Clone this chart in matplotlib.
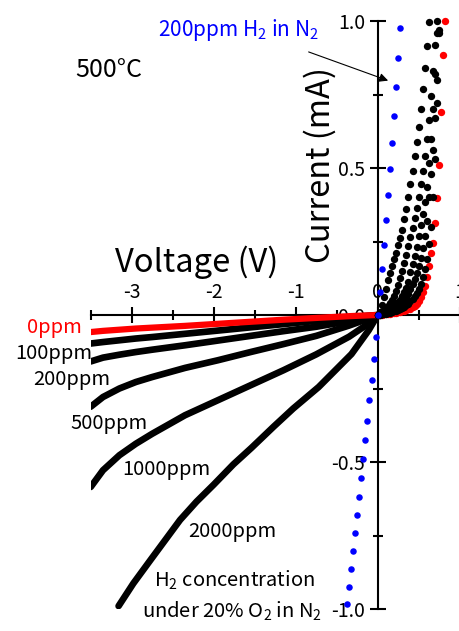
import matplotlib
matplotlib.use("Agg")
import matplotlib.pyplot as plt
from matplotlib.ticker import MultipleLocator, FormatStrFormatter

plt.rcParams['font.family'] = ['Noto Sans CJK JP', 'DejaVu Sans']
plt.rcParams['mathtext.fontset'] = 'custom'
plt.rcParams['mathtext.rm'] = 'Noto Sans CJK JP'

W, H = 460, 631

# forward sweep (dots), 0.025 V steps
v_fwd = [0.000, 0.025, 0.050, 0.075, 0.100, 0.125, 0.150, 0.175, 0.200, 0.225,
         0.250, 0.275, 0.300, 0.325, 0.350, 0.375, 0.400, 0.425, 0.450, 0.475,
         0.500, 0.525, 0.550, 0.575, 0.600, 0.625, 0.650, 0.675, 0.700, 0.725,
         0.750, 0.775, 0.800, 0.825]

i_fwd_0 = [0, .001, .001, .002, .003, .004, .005, .006, .007, .008, .009, .010,
           .012, .014, .016, .019, .022, .026, .031, .039, .049, .062, .079, .100,
           .128, .165, .212, .246, .314, .398, .510, .690, .883, 1.0]
i_fwd_100 = [0, .001, .002, .003, .004, .006, .008, .010, .012, .014, .017, .020,
             .024, .028, .033, .039, .046, .054, .064, .076, .090, .107, .128, .155,
             .190, .240, .300, .400, .530, .720, .970]
i_fwd_200 = [0, .001, .003, .005, .007, .009, .011, .014, .017, .021, .025, .030,
             .036, .043, .060, .073, .088, .105, .122, .143, .167, .195, .228, .268,
             .320, .400, .480, .560, .670, .800, .960]
i_fwd_500 = [0, .002, .004, .007, .010, .013, .017, .022, .028, .035, .043, .052,
             .063, .077, .093, .112, .145, .172, .200, .232, .268, .305, .345, .385,
             .436, .516, .600, .700, .820, .960]
i_fwd_1000 = [0, .004, .009, .015, .022, .030, .040, .052, .066, .083, .102, .125,
              .150, .177, .205, .235, .266, .297, .330, .365, .400, .444, .490, .540,
              .600, .663, .746, .830, .920, 1.0]
i_fwd_2000 = [0, .011, .034, .062, .090, .118, .142, .168, .190, .212, .238, .262,
              .290, .325, .360, .400, .445, .490, .540, .590, .640, .700, .770, .840,
              .915, .995]

# reverse sweep (dense, drawn as thick curves)
v_rev = [-3.5, -3.35, -3.15, -2.95, -2.75, -2.35, -1.95, -1.55, -1.15, -0.75, -0.35, -0.1, 0.0]
i_rev_0 = [-0.058, -0.054, -0.050, -0.046, -0.043, -0.037, -0.030, -0.023, -0.016, -0.010, -0.004, -0.001, 0]
i_rev_100 = [-0.097, -0.092, -0.086, -0.080, -0.075, -0.064, -0.053, -0.042, -0.031, -0.020, -0.009, -0.002, 0]
i_rev_200 = [-0.158, -0.145, -0.135, -0.126, -0.118, -0.103, -0.087, -0.071, -0.055, -0.040, -0.021, -0.006, 0]
i_rev_500 = [-0.312, -0.279, -0.250, -0.228, -0.211, -0.180, -0.154, -0.126, -0.099, -0.071, -0.036, -0.011, 0]
i_rev_1000 = [-0.585, -0.528, -0.477, -0.438, -0.404, -0.341, -0.290, -0.239, -0.188, -0.134, -0.074, -0.027, 0]
v_rev_2000 = [-3.16, -2.98, -2.77, -2.41, -2.21, -2.0, -1.76, -1.54, -1.27, -1.03, -0.72, -0.32, -0.11, 0.0]
i_rev_2000 = [-0.99, -0.913, -0.833, -0.697, -0.635, -0.577, -0.508, -0.452, -0.38, -0.318, -0.245, -0.133, -0.052, 0]

# 200 ppm H2 in N2
v_n2 = [-0.375, -0.35, -0.325, -0.3, -0.275, -0.25, -0.225, -0.2, -0.175, -0.15,
        -0.125, -0.1, -0.075, -0.05, -0.025, 0.0, 0.025, 0.05, 0.075, 0.1, 0.125,
        0.15, 0.175, 0.2, 0.225, 0.25, 0.275]
i_n2 = [-0.983, -0.925, -0.863, -0.803, -0.743, -0.68, -0.618, -0.555, -0.491, -0.425,
        -0.36, -0.289, -0.221, -0.15, -0.076, 0.0, 0.078, 0.156, 0.238, 0.323, 0.408,
        0.497, 0.585, 0.677, 0.776, 0.874, 0.976]

fig = plt.figure(figsize=(W / 100, H / 100), dpi=100)
ax = fig.add_axes([90.7 / W, 22 / H, 369 / W, 588 / H])
ax.set_xlim(-3.5, 1.0)
ax.set_ylim(-1.0, 1.0)

for s in ['bottom', 'right']:
    ax.spines[s].set_visible(False)
ax.spines['top'].set_position(('data', 0))
ax.spines['left'].set_position(('data', 0))
for s in ['top', 'left']:
    ax.spines[s].set_linewidth(1.5)
ax.xaxis.set_ticks_position('top')
ax.yaxis.set_ticks_position('left')
ax.xaxis.set_major_locator(MultipleLocator(1))
ax.xaxis.set_minor_locator(MultipleLocator(0.5))
ax.yaxis.set_major_locator(MultipleLocator(0.5))
ax.yaxis.set_minor_locator(MultipleLocator(0.25))
ax.xaxis.set_major_formatter(FormatStrFormatter('%d'))
ax.yaxis.set_major_formatter(FormatStrFormatter('%.1f'))
ax.tick_params(which='major', direction='inout', length=12, width=1.5, labelsize=14, pad=3)
ax.tick_params(which='minor', direction='inout', length=7, width=1.5)

lw = 4.8
for ii in [i_rev_100, i_rev_200, i_rev_500, i_rev_1000]:
    ax.plot(v_rev, ii, color='k', lw=lw, solid_capstyle='round', solid_joinstyle='round', zorder=3)
ax.plot(v_rev_2000, i_rev_2000, color='k', lw=lw, solid_capstyle='round',
        solid_joinstyle='round', zorder=3)
ax.plot(v_rev, i_rev_0, color='red', lw=4.5, solid_capstyle='round', solid_joinstyle='round', zorder=4)

ax.scatter(v_fwd[:len(i_fwd_0)], i_fwd_0, s=28, color='red', lw=0, zorder=3, clip_on=False)
for ii in [i_fwd_100, i_fwd_200, i_fwd_500, i_fwd_1000, i_fwd_2000]:
    ax.scatter(v_fwd[:len(ii)], ii, s=28, color='k', lw=0, zorder=4, clip_on=False)
ax.scatter(v_n2, i_n2, s=22, color='blue', lw=0, zorder=5, clip_on=False)

ax.annotate('', xy=(0.159, 0.794), xytext=(-0.874, 0.898),
            arrowprops=dict(arrowstyle='-|>', color='k', lw=0.8, mutation_scale=13))


def ftext(x, y, s, **kw):
    fig.text(x / W, 1 - y / H, s, **kw)


ftext(75, 70, '500°C', fontsize=18, va='center')
ftext(158, 36, '200ppm H$_\\mathregular{2}$ in N$_\\mathregular{2}$', fontsize=15, color='blue', va='baseline')
ftext(115, 272, 'Voltage (V)', fontsize=23.5, va='baseline')
ftext(320, 165, 'Current (mA)', fontsize=23.5, rotation=90, ha='center', va='center')

ftext(82, 328, '0ppm', fontsize=14.5, color='red', ha='right', va='center')
ftext(15, 353, '100ppm', fontsize=14.5, va='center')
ftext(33, 380, '200ppm', fontsize=14.5, va='center')
ftext(70, 423, '500ppm', fontsize=14.5, va='center')
ftext(122, 469, '1000ppm', fontsize=14.5, va='center')
ftext(188, 532, '2000ppm', fontsize=14.5, va='center')
ftext(234, 587, 'H$_\\mathregular{2}$ concentration', fontsize=14.5, ha='center', va='baseline')
ftext(232, 618, 'under 20% O$_\\mathregular{2}$ in N$_\\mathregular{2}$', fontsize=14.5, ha='center', va='baseline')

fig.savefig('out.png', dpi=100)
